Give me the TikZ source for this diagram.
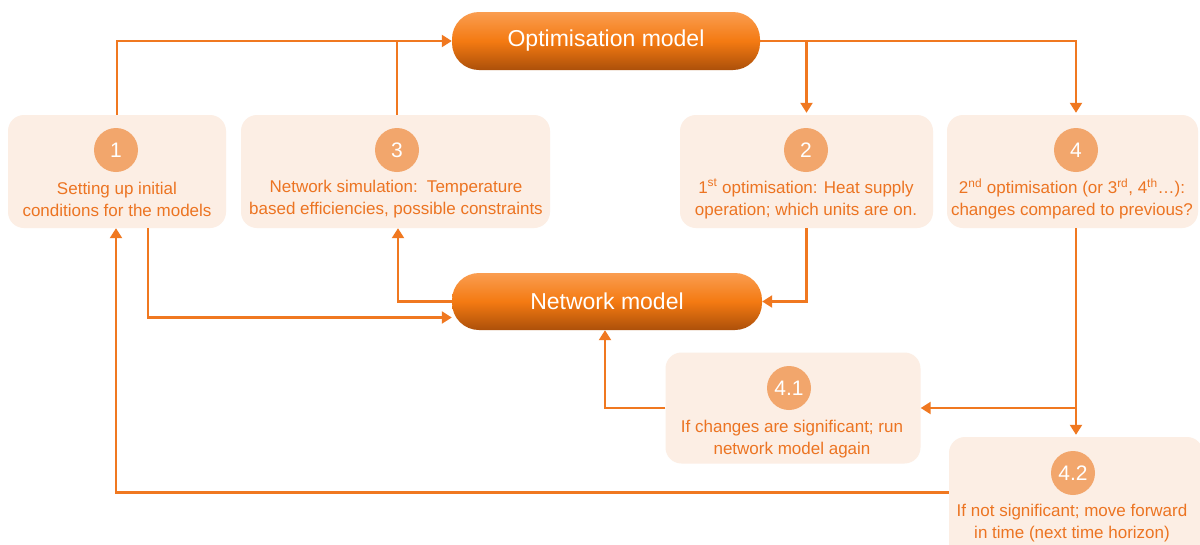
\documentclass[tikz,border=0pt]{standalone}
\usepackage{fontspec}
\setmainfont{Liberation Sans}
\usetikzlibrary{arrows.meta,shapes.misc}
\definecolor{lineor}{HTML}{F07820}
\definecolor{txtor}{HTML}{EC7422}
\definecolor{boxfill}{HTML}{FCEEE4}
\definecolor{circfill}{HTML}{F2A66C}
\definecolor{pilltop}{HTML}{FA9D50}
\definecolor{pillmid}{HTML}{F47A12}
\definecolor{pillbot}{HTML}{AC500A}
\tikzset{
  stepbox/.style={draw=none, fill=boxfill, rounded corners=16pt, inner sep=0pt},
  pill/.style={draw=none, rounded corners=27pt, top color=pilltop, bottom color=pillbot, middle color=pillmid, inner sep=0pt, text=white, font=\fontsize{23}{27}\selectfont},
  numcirc/.style={circle, fill=circfill, draw=none, minimum size=44pt, inner sep=0pt, text=white, font=\fontsize{21}{24}\selectfont},
  boxtext/.style={align=center, text=txtor, inner sep=0pt, font=\fontsize{17}{22}\selectfont},
  conn/.style={draw=lineor, line width=2.2pt},
  arr/.style={conn, -{Triangle[length=10pt,width=12pt]}}
}
\begin{document}
\begin{tikzpicture}[x=1pt,y=-1pt]
\useasboundingbox (0,0) rectangle (1200,544);
\clip (0,0) rectangle (1200,544);
\fill[white] (0,0) rectangle (1200,544);
% pills
\node[pill, minimum width=308pt, minimum height=58pt] (opt) at (606,41) {Optimisation model};
\node[pill, minimum width=310pt, minimum height=57pt] (net) at (607,301.5) {Network model};
% boxes
\node[stepbox, minimum width=218pt, minimum height=113pt] (b1) at (117,171.5) {};
\node[stepbox, minimum width=309pt, minimum height=113pt] (b3) at (395.5,171.5) {};
\node[stepbox, minimum width=253pt, minimum height=113pt] (b2) at (806.5,171.5) {};
\node[stepbox, minimum width=251pt, minimum height=113pt] (b4) at (1072.5,171.5) {};
\node[stepbox, minimum width=255pt, minimum height=111pt] (b41) at (793,408) {};
\node[stepbox, minimum width=254pt, minimum height=131pt] (b42) at (1076,502.5) {};
% circles
\node[numcirc] (c1) at (116,150) {1};
\node[numcirc] (c3) at (397,150) {3};
\node[numcirc] (c2) at (806,150) {2};
\node[numcirc] (c4) at (1076,150) {4};
\node[numcirc] (c41) at (789,388) {4.1};
\node[numcirc] (c42) at (1073,473) {4.2};
% texts
\node[boxtext] (t1) at (117,199) {Setting up initial\\conditions for the models};
\node[boxtext] (t3) at (396,199) {Network simulation:\, Temperature\\based efficiencies, possible constraints};
\node[boxtext] (t2) at (806,199) {1\textsuperscript{st} optimisation: Heat supply\\operation; which units are on.};
\node[boxtext] (t4) at (1072,199) {2\textsuperscript{nd} optimisation (or 3\textsuperscript{rd}, 4\textsuperscript{th}…):\\changes compared to previous?};
\node[boxtext] (t41) at (792,439) {If changes are significant; run\\network model again};
\node[boxtext] (t42) at (1072,523.5) {If not significant; move forward\\in time (next time horizon)};
% connectors
\draw[arr] (b1.north) |- (opt.west);
\draw[conn] ([xshift=1.5pt]b3.north) -- ([xshift=1.5pt]b3.north |- opt.west);
\draw[arr] (opt.east) -| ([yshift=2pt]b2.north);
\draw[arr] (opt.east) -| ([xshift=3.5pt,yshift=2pt]b4.north);
\draw[arr] (b2.south) |- (net.east);
\draw[arr] ([xshift=31pt]b1.south) |- ([yshift=-16pt]net.west);
\draw[arr] (net.west) -| ([xshift=2.5pt]b3.south);
\draw[arr] ([xshift=3.5pt]b4.south) -- ([yshift=2pt]b42.north);
\draw[arr] ([xshift=3.5pt]b4.south |- b41.east) -- (b41.east);
\draw[arr] (b41.west) -| ([xshift=-2pt]net.south);
\draw[arr] ([yshift=10pt]b42.west) -| ([xshift=-1pt]b1.south);
\end{tikzpicture}
\end{document}
